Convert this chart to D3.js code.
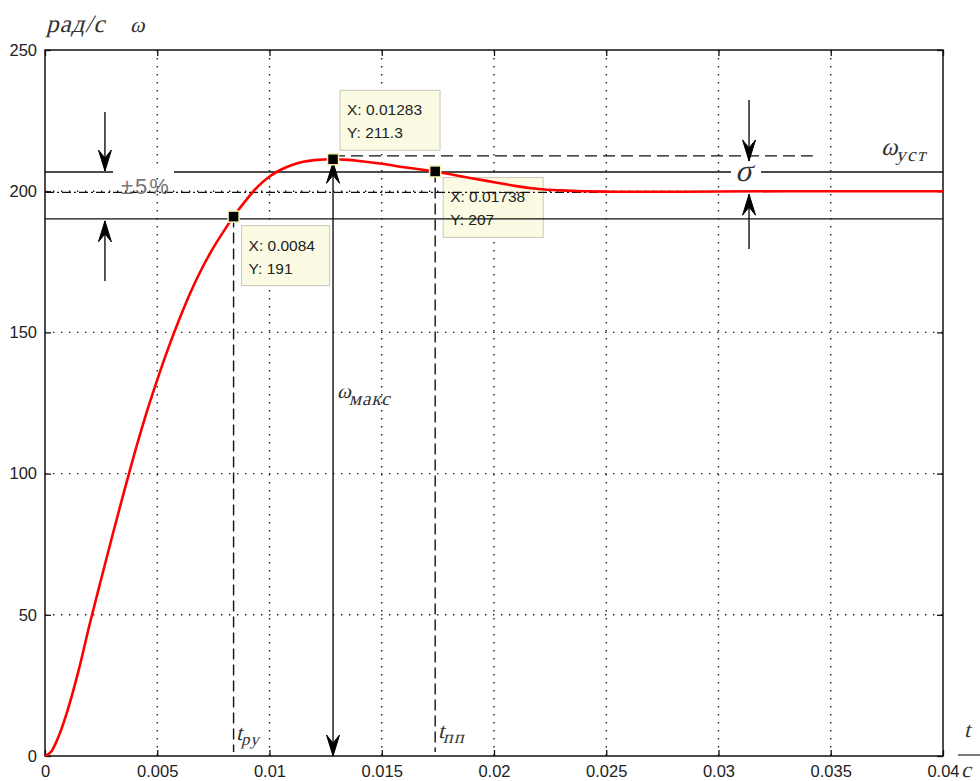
<!DOCTYPE html>
<html>
<head>
<meta charset="utf-8">
<script src="https://cdn.jsdelivr.net/npm/d3@7"></script>
<style>
  html, body { margin: 0; padding: 0; background: #fff; }
  svg { display: block; }
</style>
</head>
<body>
<svg id="chart" width="980" height="781"></svg>
<script>
// Speed transient ω(t), rad/s
const timeS = [0, 0.0003, 0.0006, 0.001, 0.0015, 0.002, 0.0025, 0.003, 0.0035, 0.004,
  0.0045, 0.005, 0.0055, 0.006, 0.0065, 0.007, 0.0075, 0.008, 0.0084, 0.009,
  0.0095, 0.01, 0.0105, 0.011, 0.0115, 0.012, 0.01283, 0.0135, 0.014, 0.015,
  0.016, 0.017, 0.01738, 0.018, 0.019, 0.02, 0.021, 0.022, 0.023, 0.024,
  0.025, 0.026, 0.028, 0.03, 0.035, 0.04];
const omega = [0, 1.8, 6.8, 16, 30.4, 47, 62.6, 78, 93, 107.5,
  121, 133.2, 144.6, 155, 164.5, 172.8, 180, 186.3, 191, 197.3,
  201.8, 205.2, 207.6, 209.3, 210.4, 211, 211.3, 211.1, 210.7, 209.7,
  208.5, 207.4, 207, 206.1, 204.6, 203.2, 201.8, 200.8, 200.3, 200.0,
  199.85, 199.8, 199.8, 199.9, 200.0, 200.0];

// Axis ticks
const xTicks = [0, 0.005, 0.01, 0.015, 0.02, 0.025, 0.03, 0.035, 0.04];
const xTickLabels = ["0", "0.005", "0.01", "0.015", "0.02", "0.025", "0.03", "0.035", "0.04"];
const yTicks = [0, 50, 100, 150, 200, 250];
const yTickLabels = ["0", "50", "100", "150", "200", "250"];

// Data tips: rise time, peak, settling time
const tipT = [0.0084, 0.01283, 0.01738];
const tipW = [191, 211.3, 207];
const tipText = [["X: 0.0084", "Y: 191"], ["X: 0.01283", "Y: 211.3"], ["X: 0.01738", "Y: 207"]];

// Reference levels: ±5% band, steady state, overshoot
const bandLevels = [190.2, 206.8];
const steadyLevel = 199.6;
const overshootLevel = 212.5;
const bandArrowT = 0.00267;
const sigmaArrowT = 0.03136;
const steadyDashEndT = 0.0270;
const overshootDashEndT = 0.0342;

const svg = d3.select("#chart");
const X0 = 45, X1 = 943, Y0 = 756, Y1 = 50;
const x = d3.scaleLinear().domain([0, 0.04]).range([X0, X1]);
const y = d3.scaleLinear().domain([0, 250]).range([Y0, Y1]);

const sans = "'Liberation Sans', Arial, sans-serif";
const serif = "'Liberation Serif', 'Times New Roman', serif";

// Dotted grid
const grid = svg.append("g");
grid.selectAll("line.gx").data(xTicks.slice(1, -1)).join("line")
  .attr("x1", d => x(d)).attr("x2", d => x(d))
  .attr("y1", Y1).attr("y2", Y0)
  .attr("stroke", "#222").attr("stroke-width", 1.4)
  .attr("stroke-dasharray", "1.4,6.6");
grid.selectAll("line.gy").data(yTicks.slice(1, -1)).join("line")
  .attr("x1", X0).attr("x2", X1)
  .attr("y1", d => y(d)).attr("y2", d => y(d))
  .attr("stroke", "#222").attr("stroke-width", 1.4)
  .attr("stroke-dasharray", "1.4,6.6");

// Axes with inward ticks on all four sides
const axB = d3.axisBottom(x).tickValues(xTicks).tickSize(-6).tickPadding(9)
  .tickFormat((d, i) => xTickLabels[i]);
const axT = d3.axisTop(x).tickValues(xTicks).tickSize(-6).tickFormat("");
const axL = d3.axisLeft(y).tickValues(yTicks).tickSize(-6).tickPadding(8)
  .tickFormat((d, i) => yTickLabels[i]);
const axR = d3.axisRight(y).tickValues(yTicks).tickSize(-6).tickFormat("");

function styleAxis(g) {
  g.select(".domain").remove();
  g.selectAll(".tick line").attr("stroke", "#111").attr("stroke-width", 1.3);
  g.selectAll(".tick text").attr("fill", "#222").style("font-family", sans).style("font-size", "16.5px");
}
svg.append("g").attr("transform", `translate(0,${Y0})`).call(axB).call(styleAxis);
svg.append("g").attr("transform", `translate(0,${Y1})`).call(axT).call(styleAxis);
svg.append("g").attr("transform", `translate(${X0},0)`).call(axL).call(styleAxis);
svg.append("g").attr("transform", `translate(${X1},0)`).call(axR).call(styleAxis);

// Plot frame
svg.append("rect").attr("x", X0).attr("y", Y1).attr("width", X1 - X0).attr("height", Y0 - Y1)
  .attr("fill", "none").attr("stroke", "#111").attr("stroke-width", 1.5);

// Data tip boxes
const tipOffsets = [[8, 9], [7, -69], [8, 6]];
const tipBoxes = svg.append("g");
tipT.forEach((t, i) => {
  const bx = x(t) + tipOffsets[i][0], by = y(tipW[i]) + tipOffsets[i][1];
  const w = i === 0 ? 88 : 100;
  tipBoxes.append("rect").attr("x", bx).attr("y", by).attr("width", w).attr("height", 60)
    .attr("fill", "#fbfbe4").attr("stroke", "#c8c8b8").attr("stroke-width", 1);
  tipText[i].forEach((s, k) => {
    tipBoxes.append("text").attr("x", bx + 7).attr("y", by + 25 + k * 23)
      .attr("fill", "#222").style("font-family", sans).style("font-size", "15.5px").text(s);
  });
});

// Annotation lines
const ann = svg.append("g").attr("stroke", "#111").attr("fill", "none");
bandLevels.forEach(v => {
  ann.append("line").attr("x1", X0).attr("x2", X1).attr("y1", y(v)).attr("y2", y(v))
    .attr("stroke-width", 1.4);
});
ann.append("line").attr("x1", X0).attr("x2", x(steadyDashEndT))
  .attr("y1", y(steadyLevel)).attr("y2", y(steadyLevel))
  .attr("stroke-width", 1.3).attr("stroke-dasharray", "9,3,2,3");
ann.append("line").attr("x1", x(tipT[1])).attr("x2", x(overshootDashEndT))
  .attr("y1", y(overshootLevel)).attr("y2", y(overshootLevel))
  .attr("stroke-width", 1.4).attr("stroke-dasharray", "12,6");
// vertical dashed lines to the time axis
[0, 2].forEach(i => {
  ann.append("line").attr("x1", x(tipT[i])).attr("x2", x(tipT[i]))
    .attr("y1", y(tipW[i])).attr("y2", Y0 - 4)
    .attr("stroke-width", 1.4).attr("stroke-dasharray", "11,5");
});
// peak-value dimension line
ann.append("line").attr("x1", x(tipT[1])).attr("x2", x(tipT[1]))
  .attr("y1", y(tipW[1])).attr("y2", Y0).attr("stroke-width", 1.4);

// Arrowheads (tip at the given point)
function arrowHead(px, py, dir) {
  const s = dir === "down" ? 1 : -1;
  const p = `M${px},${py} L${px - 6.5},${py - 21 * s} L${px},${py - 13 * s} L${px + 6.5},${py - 21 * s} Z`;
  svg.append("path").attr("d", p).attr("fill", "#000").attr("stroke", "#000").attr("stroke-width", 1);
}
function arrowLine(t, yFrom, yTip, dir) {
  svg.append("line").attr("x1", x(t)).attr("x2", x(t)).attr("y1", yFrom).attr("y2", yTip)
    .attr("stroke", "#111").attr("stroke-width", 1.4);
  arrowHead(x(t), yTip, dir);
}
arrowLine(bandArrowT, 112, y(bandLevels[1]) - 1, "down");
arrowLine(bandArrowT, 281, y(bandLevels[0]) + 2, "up");
arrowLine(sigmaArrowT, 100, y(overshootLevel) + 5, "down");
arrowLine(sigmaArrowT, 249, y(200) + 3, "up");
arrowHead(x(tipT[1]), y(tipW[1]) + 3, "up");
arrowHead(x(tipT[1]), Y0, "down");

// Response curve
svg.append("path")
  .datum(timeS.map((t, i) => [t, omega[i]]))
  .attr("fill", "none").attr("stroke", "#ff0000").attr("stroke-width", 2.6)
  .attr("stroke-linejoin", "round")
  .attr("d", d3.line().x(d => x(d[0])).y(d => y(d[1])).curve(d3.curveMonotoneX));

// Data tip markers
svg.selectAll("rect.marker").data(tipT).join("rect")
  .attr("x", (d) => x(d) - 5.5).attr("y", (d, i) => y(tipW[i]) - 5.5)
  .attr("width", 11).attr("height", 11)
  .attr("fill", "#000").attr("stroke", "#f6f3b0").attr("stroke-width", 1.5);

// white patches breaking the band line behind labels
svg.append("rect").attr("x", 113).attr("y", 168).attr("width", 61).attr("height", 9).attr("fill", "#fff");
svg.append("rect").attr("x", 731).attr("y", 167).attr("width", 30).attr("height", 10).attr("fill", "#fff");

// Slanted serif labels
const lab = svg.append("g").attr("fill", "#333").style("font-family", serif);
function slanted(px, py, size, str, subStr, subSize, subDy, subSpacing) {
  const g = lab.append("g").attr("transform", `translate(${px},${py}) skewX(-14)`);
  const t = g.append("text").style("font-size", size + "px");
  t.append("tspan").text(str);
  if (subStr) {
    t.append("tspan").attr("dy", subDy).style("font-size", subSize + "px")
      .attr("letter-spacing", (subSpacing || 0) + "px").text(subStr);
  }
  return g;
}

svg.append("text").attr("x", 121).attr("y", 194).attr("fill", "#777")
  .attr("letter-spacing", "2px")
  .style("font-family", sans).style("font-size", "22px").text("±5%");
slanted(735, 181, 31, "σ");

slanted(46, 32, 25, "рад/с").attr("letter-spacing", "1px");
slanted(130, 32, 22, "ω");
slanted(881, 155, 25, "ω", "уст", 19, 6, 1.5);
slanted(337, 398, 21, "ω", "макс", 19, 7, 1);
slanted(236, 740, 22, "t", "ру", 17, 5, 1);
slanted(438, 738, 22, "t", "пп", 18, 5, 1.5);
slanted(964, 737, 22, "t");
svg.append("line").attr("x1", 958).attr("x2", 980).attr("y1", 755).attr("y2", 755)
  .attr("stroke", "#333").attr("stroke-width", 1.3);
slanted(961, 777, 22, "c");
</script>
</body>
</html>
